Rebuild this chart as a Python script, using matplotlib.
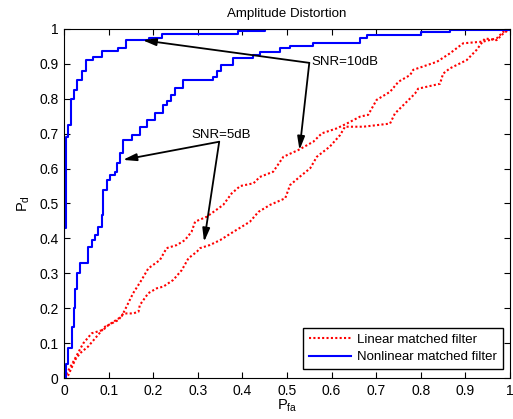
import matplotlib
matplotlib.use("Agg")
import matplotlib.pyplot as plt

plt.rcParams['font.family'] = ['Liberation Sans', 'DejaVu Sans']
plt.rcParams['mathtext.fontset'] = 'custom'
plt.rcParams['mathtext.rm'] = 'Liberation Sans'
plt.rcParams['mathtext.it'] = 'Liberation Sans:italic'

# nonlinear matched filter, SNR = 10 dB
nl10_pfa = [0, 0, 0.004, 0.01, 0.015, 0.022, 0.03, 0.04, 0.05, 0.065, 0.085, 0.12,
            0.14, 0.19, 0.22, 0.39, 0.45, 1.0]
nl10_pd = [0, 0.43, 0.69, 0.725, 0.80, 0.825, 0.854, 0.88, 0.91, 0.92, 0.938, 0.945,
           0.968, 0.973, 0.985, 0.994, 1.0, 1.0]

# nonlinear matched filter, SNR = 5 dB
nl5_pfa = [0, 0.005, 0.01, 0.017, 0.022, 0.025, 0.03, 0.036, 0.053, 0.062, 0.07,
           0.077, 0.085, 0.088, 0.096, 0.103, 0.114, 0.118, 0.126, 0.133, 0.152, 0.17,
           0.185, 0.204, 0.222, 0.23, 0.24, 0.249, 0.267, 0.334, 0.343, 0.353, 0.379,
           0.424, 0.44, 0.484, 0.507, 0.558, 0.664, 0.679, 0.8, 0.866, 1.0]
nl5_pd = [0, 0.04, 0.085, 0.146, 0.2, 0.256, 0.3, 0.33, 0.376, 0.395, 0.41,
          0.433, 0.467, 0.539, 0.567, 0.582, 0.591, 0.615, 0.644, 0.682, 0.696, 0.72,
          0.74, 0.76, 0.782, 0.795, 0.812, 0.83, 0.854, 0.863, 0.88, 0.897, 0.917,
          0.925, 0.935, 0.946, 0.95, 0.96, 0.973, 0.984, 0.992, 0.997, 1.0]

# linear matched filter, SNR = 10 dB
lin10_pfa = [0, 0.002, 0.021, 0.043, 0.062, 0.088, 0.1, 0.129, 0.14, 0.155, 0.174, 0.189,
             0.215, 0.23, 0.253, 0.271, 0.286, 0.294, 0.32, 0.357, 0.376, 0.395, 0.425,
             0.439, 0.469, 0.492, 0.525, 0.559, 0.578, 0.611, 0.634, 0.664, 0.682, 0.701,
             0.731, 0.75, 0.776, 0.783, 0.836, 0.865, 0.895, 0.94, 0.97, 0.985, 1.0]
lin10_pd = [0, 0.004, 0.047, 0.099, 0.128, 0.138, 0.152, 0.176, 0.204, 0.243, 0.281, 0.314,
            0.338, 0.372, 0.381, 0.395, 0.419, 0.448, 0.462, 0.496, 0.529, 0.55, 0.558,
            0.576, 0.591, 0.634, 0.653, 0.677, 0.701, 0.715, 0.729, 0.749, 0.754, 0.797,
            0.82, 0.849, 0.868, 0.883, 0.906, 0.93, 0.959, 0.964, 0.973, 0.992, 1.0]

# linear matched filter, SNR = 5 dB
lin5_pfa = [0, 0.01, 0.025, 0.036, 0.054, 0.07, 0.092, 0.122, 0.133, 0.155, 0.167, 0.17,
            0.189, 0.208, 0.223, 0.245, 0.264, 0.279, 0.298, 0.305, 0.327, 0.35, 0.38,
            0.398, 0.417, 0.436, 0.462, 0.496, 0.507, 0.529, 0.552, 0.567, 0.596, 0.619,
            0.63, 0.671, 0.731, 0.742, 0.757, 0.787, 0.794, 0.843, 0.85, 0.865, 0.903,
            0.925, 0.944, 0.97, 0.985, 1.0]
lin5_pd = [0, 0.009, 0.052, 0.071, 0.09, 0.114, 0.147, 0.166, 0.185, 0.185, 0.19, 0.209,
           0.243, 0.257, 0.262, 0.281, 0.309, 0.343, 0.362, 0.372, 0.381, 0.395, 0.419,
           0.433, 0.448, 0.476, 0.496, 0.515, 0.553, 0.577, 0.601, 0.634, 0.663, 0.696,
           0.72, 0.72, 0.729, 0.758, 0.777, 0.815, 0.829, 0.843, 0.872, 0.887, 0.911,
           0.94, 0.973, 0.968, 0.987, 1.0]

ticks = [0, 0.1, 0.2, 0.3, 0.4, 0.5, 0.6, 0.7, 0.8, 0.9, 1]
tick_labels = ['0', '0.1', '0.2', '0.3', '0.4', '0.5', '0.6', '0.7', '0.8', '0.9', '1']

fig = plt.figure(figsize=(5.13, 4.19), dpi=100)
ax = fig.add_axes([64 / 513, 41 / 419, 446 / 513, 349 / 419])

dot = (0, (1, 1.1))
ax.plot(lin10_pfa, lin10_pd, color='red', lw=1.5, ls=dot, label='Linear matched filter')
ax.plot(lin5_pfa, lin5_pd, color='red', lw=1.5, ls=dot)
ax.plot(nl10_pfa, nl10_pd, color='blue', lw=1.5, drawstyle='steps-post',
        label='Nonlinear matched filter')
ax.plot(nl5_pfa, nl5_pd, color='blue', lw=1.5, drawstyle='steps-post')

ax.set_xlim(0, 1)
ax.set_ylim(0, 1)
ax.set_xticks(ticks)
ax.set_xticklabels(tick_labels)
ax.set_yticks(ticks)
ax.set_yticklabels(tick_labels)
ax.tick_params(direction='in', top=True, right=True, length=4, labelsize=10, pad=4)

ax.set_title('Amplitude Distortion', fontsize=9.6, pad=9)
ax.set_xlabel(r'$\mathrm{P_{fa}}$', fontsize=10.5, labelpad=0)
ax.set_ylabel(r'$\mathrm{P_{d}}$', fontsize=10.5, labelpad=5)

arrow = dict(arrowstyle='-|>,head_length=0.8,head_width=0.22', color='black',
             lw=1.3, shrinkA=0, shrinkB=0, mutation_scale=10)

ax.text(0.555, 0.905, 'SNR=10dB', fontsize=9.5, va='center', ha='left')
ax.annotate('', xy=(0.176, 0.968), xytext=(0.55, 0.903), arrowprops=arrow)
ax.annotate('', xy=(0.528, 0.653), xytext=(0.55, 0.903), arrowprops=arrow)

ax.text(0.286, 0.696, 'SNR=5dB', fontsize=9.5, va='center', ha='left')
ax.annotate('', xy=(0.132, 0.625), xytext=(0.348, 0.677), arrowprops=arrow)
ax.annotate('', xy=(0.314, 0.39), xytext=(0.348, 0.677), arrowprops=arrow)

leg = ax.legend(loc='lower right', bbox_to_anchor=(0.985, 0.025), borderaxespad=0,
                fontsize=9.5, fancybox=False, edgecolor='black', framealpha=1,
                handlelength=3.2, labelspacing=0.4, borderpad=0.45, handletextpad=0.5)
leg.get_frame().set_linewidth(1.0)

fig.savefig('out.png', dpi=100)
